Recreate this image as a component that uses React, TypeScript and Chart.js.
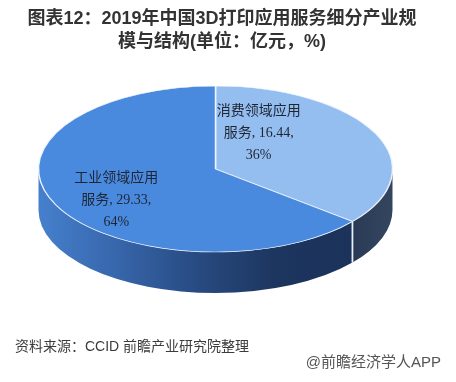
import React, { useEffect, useRef } from 'react';
import { Chart, registerables } from 'chart.js';

Chart.register(...registerables);

const titleLines = ['图表12：2019年中国3D打印应用服务细分产业规', '模与结构(单位：亿元，%)'];
const categories = ['消费领域应用服务', '工业领域应用服务'];
const values = [16.44, 29.33];
const topColors = ['#95bef0', '#4a8ade'];
const sourceText = '资料来源：CCID 前瞻产业研究院整理';
const brandText = '@前瞻经济学人APP';

const pie3d = {
  id: 'pie3d',
  beforeDatasetsDraw(chart: any, _args: any, opts: any) {
    const ctx = chart.ctx as CanvasRenderingContext2D;
    const arcs = chart.getDatasetMeta(0).data as any[];
    if (!arcs.length) return;
    const cx = arcs[0].x, cy = arcs[0].y, rx = arcs[0].outerRadius;
    const ry = rx * opts.tilt;
    const d = opts.depth;
    ctx.save();
    arcs.forEach((arc: any, i: number) => {
      const s = Math.max(arc.startAngle, 0);
      const e = Math.min(arc.endAngle, Math.PI);
      if (e <= s) return;
      ctx.beginPath();
      ctx.ellipse(cx, cy, rx, ry, 0, s, e, false);
      ctx.ellipse(cx, cy + d, rx, ry, 0, e, s, true);
      ctx.closePath();
      const x0 = cx + rx * Math.cos(e);
      const x1 = cx + rx * Math.cos(s);
      const g = ctx.createLinearGradient(Math.min(x0, x1), 0, Math.max(x0, x1), 0);
      const stops = opts.sideStops[i];
      stops.forEach((c: string, k: number) => g.addColorStop(k / (stops.length - 1), c));
      ctx.fillStyle = g;
      ctx.fill();
    });
    // dividing lines on the side wall
    ctx.strokeStyle = 'rgba(235,242,252,0.85)';
    ctx.lineWidth = 1.5;
    arcs.forEach((arc: any) => {
      [arc.startAngle, arc.endAngle].forEach((a: number) => {
        const na = ((a % (2 * Math.PI)) + 2 * Math.PI) % (2 * Math.PI);
        if (na > 0.01 && na < Math.PI - 0.01) {
          const x = cx + rx * Math.cos(na);
          const y = cy + ry * Math.sin(na);
          ctx.beginPath();
          ctx.moveTo(x, y);
          ctx.lineTo(x, y + d);
          ctx.stroke();
        }
      });
    });
    ctx.restore();
  },
  beforeDatasetDraw(chart: any, _args: any, opts: any) {
    const ctx = chart.ctx as CanvasRenderingContext2D;
    const arcs = chart.getDatasetMeta(0).data as any[];
    ctx.save();
    if (!arcs.length) return;
    const cx = arcs[0].x, cy = arcs[0].y;
    ctx.translate(cx, cy);
    ctx.scale(1, opts.tilt);
    ctx.translate(-cx, -cy);
  },
  afterDatasetDraw(chart: any) {
    chart.ctx.restore();
  },
  afterDatasetsDraw(chart: any, _args: any, opts: any) {
    const ctx = chart.ctx as CanvasRenderingContext2D;
    const arcs = chart.getDatasetMeta(0).data as any[];
    if (!arcs.length) return;
    const cx = arcs[0].x, cy = arcs[0].y, rx = arcs[0].outerRadius;
    const ry = rx * opts.tilt;
    const data = chart.data.datasets[0].data as number[];
    const total = data.reduce((a, b) => a + b, 0);
    ctx.save();
    ctx.font = "14px 'Liberation Serif', 'Noto Sans CJK SC', serif";
    ctx.fillStyle = '#1e2533';
    ctx.textAlign = 'center';
    ctx.textBaseline = 'middle';
    arcs.forEach((arc: any, i: number) => {
      const mid = (arc.startAngle + arc.endAngle) / 2;
      const p = opts.labelPlace[i];
      const x = cx + rx * p.r * Math.cos(mid);
      const y = cy + ry * p.r * Math.sin(mid) + p.dy * ry;
      const name = chart.data.labels[i] as string;
      const lines = [
        name.slice(0, 6),
        name.slice(6) + ', ' + data[i].toFixed(2) + ',',
        Math.round((data[i] / total) * 100) + '%',
      ];
      lines.forEach((t, k) => ctx.fillText(t, x, y + (k - 1) * 22));
    });
    ctx.restore();
  },
  afterDraw(chart: any) {
    const ctx = chart.ctx as CanvasRenderingContext2D;
    ctx.save();
    ctx.textBaseline = 'middle';
    ctx.textAlign = 'center';
    ctx.fillStyle = '#333333';
    ctx.font = "bold 18px 'Liberation Sans', 'Noto Sans CJK SC', sans-serif";
    titleLines.forEach((t, k) => ctx.fillText(t, 222, 19 + k * 23));
    ctx.textAlign = 'left';
    ctx.fillStyle = '#3c3c3c';
    ctx.font = "14px 'Liberation Sans', 'Noto Sans CJK SC', sans-serif";
    ctx.fillText(sourceText, 15, 347);
    ctx.textAlign = 'right';
    ctx.fillStyle = '#555555';
    ctx.font = "15px 'Liberation Sans', 'Noto Sans CJK SC', sans-serif";
    ctx.fillText(brandText, 441, 363);
    ctx.restore();
  },
};

export default function App() {
  const ref = useRef<HTMLCanvasElement | null>(null);
  useEffect(() => {
    if (!ref.current) return;
    const chart = new Chart(ref.current, {
      type: 'pie',
      data: {
        labels: categories,
        datasets: [
          {
            data: values,
            backgroundColor: topColors,
            borderColor: 'rgba(240,246,255,0.95)',
            borderWidth: 1.5,
            radius: 177,
            clip: false,
          } as any,
        ],
      },
      options: {
        responsive: false,
        animation: false,
        events: [],
        devicePixelRatio: 1,
        layout: { padding: { left: 0, right: 25, top: 0, bottom: 44 } },
        plugins: {
          legend: { display: false },
          tooltip: { enabled: false },
          title: { display: false },
          pie3d: {
            tilt: 83 / 177,
            depth: 41,
            sideStops: [
              ['#2a3a56', '#34465f'],
              ['#4680cd', '#3766ab', '#284b82', '#1d365f', '#1b325a'],
            ],
            labelPlace: [
              { r: 0.27, dy: -0.32 },
              { r: 0.62, dy: 0.11 },
            ],
          },
        } as any,
      },
      plugins: [pie3d],
    });
    return () => chart.destroy();
  }, []);
  return (
    <div style={{ position: 'fixed', left: 0, top: 0, width: 456, height: 382, background: '#ffffff' }}>
      <canvas ref={ref} width={456} height={382} style={{ display: 'block' }} />
    </div>
  );
}
